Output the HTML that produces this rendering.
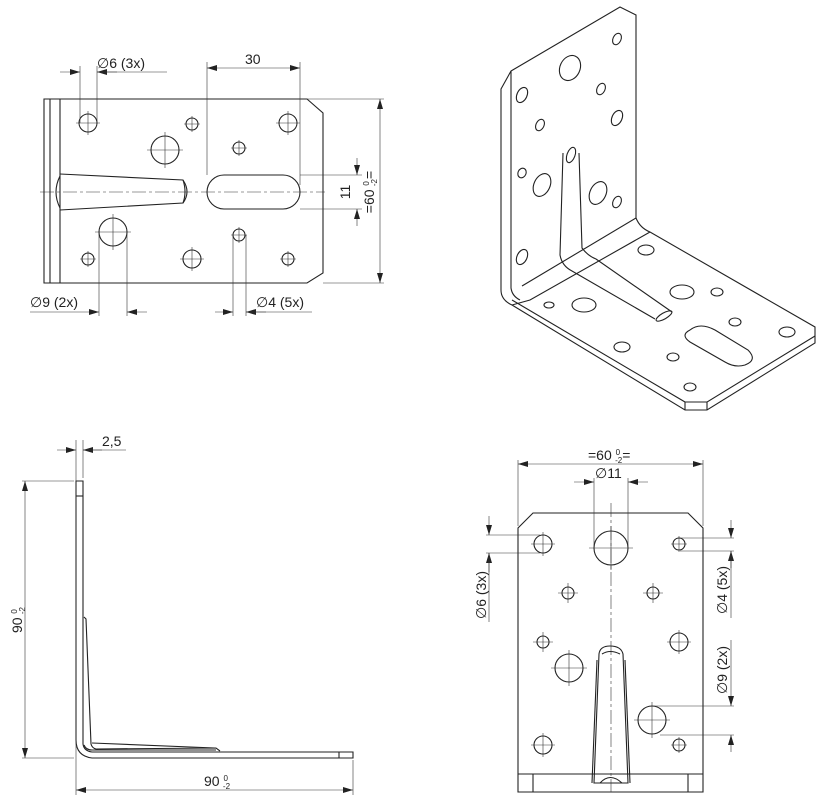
<!DOCTYPE html>
<html><head><meta charset="utf-8"><style>
html,body{margin:0;padding:0;background:#fff;}
svg{display:block;}
text{font-family:"Liberation Sans",sans-serif;fill:#222;}
</style></head><body>
<svg width="824" height="804" viewBox="0 0 824 804" xmlns="http://www.w3.org/2000/svg">
<defs>
<marker id="a" viewBox="0 0 10 6" refX="10" refY="3" markerWidth="10" markerHeight="6" orient="auto-start-reverse" markerUnits="userSpaceOnUse"><path d="M0,0 L10,3 L0,6 z" fill="#222"/></marker>
</defs>
<g fill="none" stroke="#222" stroke-width="1.1">
<path d="M44,99 L307,99 L323,113 L323,273 L307,283 L44,283 Z"/>
<line x1="50" y1="99" x2="50" y2="283"/><line x1="60" y1="99" x2="60" y2="283"/>
<circle cx="88" cy="123" r="9"/><circle cx="192" cy="124" r="6"/><circle cx="288" cy="123" r="9"/>
<circle cx="165" cy="150" r="14"/><circle cx="239" cy="148" r="6"/>
<circle cx="113" cy="232" r="14"/><circle cx="239" cy="235" r="6"/>
<circle cx="88" cy="259" r="6"/><circle cx="192" cy="259" r="9"/><circle cx="288" cy="259" r="6"/>
<rect x="207" y="175" width="93" height="34" rx="17"/>
<path d="M60,174 L183,180 Q191,192 183,203 L60,210"/>
<path d="M183,180 Q187,192 183,203"/>
<path d="M60,176 Q52,192 60,208"/>
</g>
<g stroke="#333" stroke-width="0.6" fill="none">
<path d="M76,123h24M88,111v24M184,124h16M192,116v16M276,123h24M288,111v24M147,150h36M165,132v36M231,148h16M239,140v16M95,232h36M113,214v36M239,227v16M231,235h16M80,259h16M88,251v16M180,259h24M192,247v24M280,259h16M288,251v16"/>
<line x1="40" y1="192" x2="325" y2="192" stroke-dasharray="14,3,3,3"/>
<line x1="80" y1="123" x2="80" y2="66"/><line x1="97" y1="123" x2="97" y2="66"/>
<line x1="60" y1="72" x2="80" y2="72" marker-end="url(#a)"/><line x1="117" y1="72" x2="97" y2="72" marker-end="url(#a)"/>
<line x1="97" y1="72" x2="167" y2="72"/>
<line x1="207" y1="175" x2="207" y2="62"/><line x1="300" y1="185" x2="300" y2="62"/>
<line x1="207" y1="68" x2="300" y2="68" marker-start="url(#a)" marker-end="url(#a)"/>
<line x1="307" y1="99" x2="384" y2="99"/><line x1="323" y1="283" x2="384" y2="283"/>
<line x1="380" y1="99" x2="380" y2="283" marker-start="url(#a)" marker-end="url(#a)"/>
<line x1="300" y1="175" x2="362" y2="175"/><line x1="300" y1="209" x2="362" y2="209"/>
<line x1="357" y1="158" x2="357" y2="175" marker-end="url(#a)"/><line x1="357" y1="226" x2="357" y2="209" marker-end="url(#a)"/>
<line x1="99" y1="232" x2="99" y2="316"/><line x1="127" y1="232" x2="127" y2="316"/>
<line x1="30" y1="312" x2="99" y2="312" marker-end="url(#a)"/><line x1="147" y1="312" x2="127" y2="312" marker-end="url(#a)"/>
<line x1="233" y1="235" x2="233" y2="316"/><line x1="246" y1="235" x2="246" y2="316"/>
<line x1="215" y1="312" x2="233" y2="312" marker-end="url(#a)"/><line x1="266" y1="312" x2="246" y2="312" marker-end="url(#a)"/>
<line x1="246" y1="312" x2="312" y2="312"/>
</g>
<text x="97" y="68" font-size="14">∅6 (3x)</text>
<text x="245" y="64" font-size="14">30</text>
<text x="350" y="192" font-size="14" transform="rotate(-90 350 192)" text-anchor="middle">11</text>
<text x="374" y="192" font-size="14" transform="rotate(-90 374 192)" text-anchor="middle">=60 <tspan font-size="8" dy="-5">0</tspan><tspan font-size="8" dx="-5" dy="8">-2</tspan><tspan dy="-3">=</tspan></text>
<text x="30" y="307" font-size="14">∅9 (2x)</text>
<text x="256" y="307" font-size="14">∅4 (5x)</text>

<g fill="none" stroke="#222" stroke-width="1.1">
<path d="M511,71 L620,7 L636,15 L636,218 Q640,228 650,232 L815,327 L815,343 L707,410 L685,410 L512,305 Q501,300 501,290 L501,89 Z"/>
<path d="M511,71 L511,288 Q512,296 520,300"/>
<path d="M636,218 L522,286"/><path d="M650,232 L530,300 L512,305"/>
<path d="M685,410 L685,402 L512,300"/><path d="M707,410 L707,402 L815,336"/>
<path d="M685,402 L707,402"/>
<path d="M563,153 L560,255 Q562,266 572,271 L655,319"/>
<path d="M579,153 L582,248 Q588,256 596,259 L672,312"/>
<ellipse cx="571" cy="155" rx="8" ry="4" transform="rotate(-70 571 155)"/>
<ellipse cx="664" cy="316" rx="9" ry="3" transform="rotate(-30 664 316)"/>
<ellipse cx="617" cy="39" rx="4" ry="6" transform="rotate(25 617 39)"/>
<ellipse cx="570" cy="68" rx="10" ry="13" transform="rotate(25 570 68)"/>
<ellipse cx="601" cy="89" rx="4" ry="6" transform="rotate(25 601 89)"/>
<ellipse cx="522" cy="95" rx="5" ry="8" transform="rotate(25 522 95)"/>
<ellipse cx="617" cy="118" rx="5" ry="8" transform="rotate(25 617 118)"/>
<ellipse cx="540" cy="125" rx="4" ry="6" transform="rotate(25 540 125)"/>
<ellipse cx="522" cy="173" rx="4" ry="5" transform="rotate(25 522 173)"/>
<ellipse cx="542" cy="185" rx="8" ry="12" transform="rotate(25 542 185)"/>
<ellipse cx="598" cy="193" rx="8" ry="12" transform="rotate(25 598 193)"/>
<ellipse cx="617" cy="202" rx="4" ry="6" transform="rotate(25 617 202)"/>
<ellipse cx="522" cy="257" rx="5" ry="8" transform="rotate(25 522 257)"/>
<ellipse cx="646" cy="250" rx="8" ry="5"/>
<ellipse cx="549" cy="305" rx="5" ry="3"/>
<ellipse cx="584" cy="305" rx="12" ry="7"/>
<ellipse cx="682" cy="292" rx="12" ry="7"/>
<ellipse cx="717" cy="292" rx="6" ry="4"/>
<ellipse cx="735" cy="322" rx="6" ry="4"/>
<ellipse cx="787" cy="332" rx="8" ry="5"/>
<ellipse cx="622" cy="347" rx="8" ry="5"/>
<ellipse cx="673" cy="357" rx="6" ry="4"/>
<ellipse cx="690" cy="387" rx="6" ry="4"/>
<path d="M690,330 Q700,322 715,330 L748,350 Q758,360 745,365 Q735,368 725,362 L690,342 Q680,335 690,330 Z"/>
</g>

<g fill="none" stroke="#222" stroke-width="1.1">
<path d="M76,481 L83,481 L83,744 Q84,751 92,752 L353,752 L353,758 L92,758 Q76,756 76,740 Z"/>
<line x1="76" y1="496" x2="83" y2="496"/><line x1="339" y1="752" x2="339" y2="758"/>
<path d="M84,617 L86,619 L91,744 Q92,748 96,749 L216,748 L220,751"/>
<path d="M84,745 Q86,750 92,750 L216,750"/>
<path d="M92,743 L215,748"/>
</g>
<g stroke="#333" stroke-width="0.6" fill="none">
<line x1="76" y1="440" x2="76" y2="795"/><line x1="83" y1="440" x2="83" y2="478"/>
<line x1="57" y1="450" x2="76" y2="450" marker-end="url(#a)"/><line x1="102" y1="450" x2="83" y2="450" marker-end="url(#a)"/>
<line x1="83" y1="450" x2="126" y2="450"/>
<line x1="22" y1="481" x2="74" y2="481"/><line x1="22" y1="758" x2="74" y2="758"/>
<line x1="25" y1="481" x2="25" y2="758" marker-start="url(#a)" marker-end="url(#a)"/>
<line x1="353" y1="760" x2="353" y2="795"/>
<line x1="76" y1="790" x2="353" y2="790" marker-start="url(#a)" marker-end="url(#a)"/>
</g>
<text x="102" y="446" font-size="14">2,5</text>
<text x="22" y="620" font-size="14" transform="rotate(-90 22 620)" text-anchor="middle">90 <tspan font-size="8" dy="-5">0</tspan><tspan font-size="8" dx="-5" dy="8">-2</tspan></text>
<text x="204" y="786" font-size="14">90 <tspan font-size="8" dy="-5">0</tspan><tspan font-size="8" dx="-5" dy="8">-2</tspan></text>

<g fill="none" stroke="#222" stroke-width="1.1">
<path d="M518,528 L533,513 L688,513 L703,528 L703,792 L518,792 Z"/>
<line x1="518" y1="774" x2="703" y2="774"/>
<line x1="533" y1="774" x2="533" y2="792"/><line x1="688" y1="774" x2="688" y2="792"/>
<circle cx="543" cy="544" r="9"/><circle cx="611" cy="548" r="17"/><circle cx="679" cy="544" r="6"/>
<circle cx="568" cy="593" r="6"/><circle cx="653" cy="593" r="6"/>
<circle cx="543" cy="642" r="6"/><circle cx="679" cy="642" r="9"/>
<circle cx="569" cy="668" r="14"/><circle cx="652" cy="720" r="14"/>
<circle cx="543" cy="745" r="9"/><circle cx="679" cy="745" r="6"/>
<path d="M599,654 Q600,646 610,646 Q621,646 623,654 L628,783 L594,783 Z"/>
<path d="M602,654 Q610,649 620,654"/><path d="M600,783 Q610,772 622,783"/>
<line x1="597" y1="660" x2="592" y2="783"/><line x1="625" y1="660" x2="630" y2="783"/>
</g>
<g stroke="#333" stroke-width="0.6" fill="none">
<line x1="611" y1="503" x2="611" y2="792" stroke-dasharray="14,3,3,3"/>
<path d="M531,544h24M543,532v24M589,548h44M611,526v44M671,544h16M679,536v16M558,593h20M568,583v20M643,593h20M653,583v20M533,642h20M543,632v20M667,642h24M679,630v24M551,668h36M569,650v36M634,720h36M652,702v36M531,745h24M543,733v24M671,745h16M679,737v16"/>
<line x1="518" y1="460" x2="518" y2="526"/><line x1="703" y1="460" x2="703" y2="526"/>
<line x1="518" y1="464" x2="703" y2="464" marker-start="url(#a)" marker-end="url(#a)"/>
<line x1="594" y1="478" x2="594" y2="548"/><line x1="628" y1="478" x2="628" y2="548"/>
<line x1="574" y1="482" x2="594" y2="482" marker-end="url(#a)"/><line x1="648" y1="482" x2="628" y2="482" marker-end="url(#a)"/>
<line x1="486" y1="535" x2="540" y2="535"/><line x1="486" y1="553" x2="540" y2="553"/>
<line x1="489" y1="516" x2="489" y2="535" marker-end="url(#a)"/><line x1="489" y1="572" x2="489" y2="553" marker-end="url(#a)"/>
<line x1="489" y1="553" x2="489" y2="622"/>
<line x1="680" y1="538" x2="734" y2="538"/><line x1="680" y1="551" x2="734" y2="551"/>
<line x1="731" y1="520" x2="731" y2="538" marker-end="url(#a)"/><line x1="731" y1="568" x2="731" y2="551" marker-end="url(#a)"/>
<line x1="731" y1="551" x2="731" y2="618"/>
<line x1="652" y1="706" x2="734" y2="706"/><line x1="660" y1="735" x2="734" y2="735"/>
<line x1="731" y1="640" x2="731" y2="706" marker-end="url(#a)"/><line x1="731" y1="752" x2="731" y2="735" marker-end="url(#a)"/>
</g>
<text x="588" y="460" font-size="14">=60 <tspan font-size="8" dy="-5">0</tspan><tspan font-size="8" dx="-5" dy="8">-2</tspan><tspan dy="-3">=</tspan></text>
<text x="595" y="478" font-size="14">∅11</text>
<text x="486" y="595" font-size="14" transform="rotate(-90 486 595)" text-anchor="middle">∅6 (3x)</text>
<text x="727" y="590" font-size="14" transform="rotate(-90 727 590)" text-anchor="middle">∅4 (5x)</text>
<text x="727" y="670" font-size="14" transform="rotate(-90 727 670)" text-anchor="middle">∅9 (2x)</text>
</svg>
</body></html>
